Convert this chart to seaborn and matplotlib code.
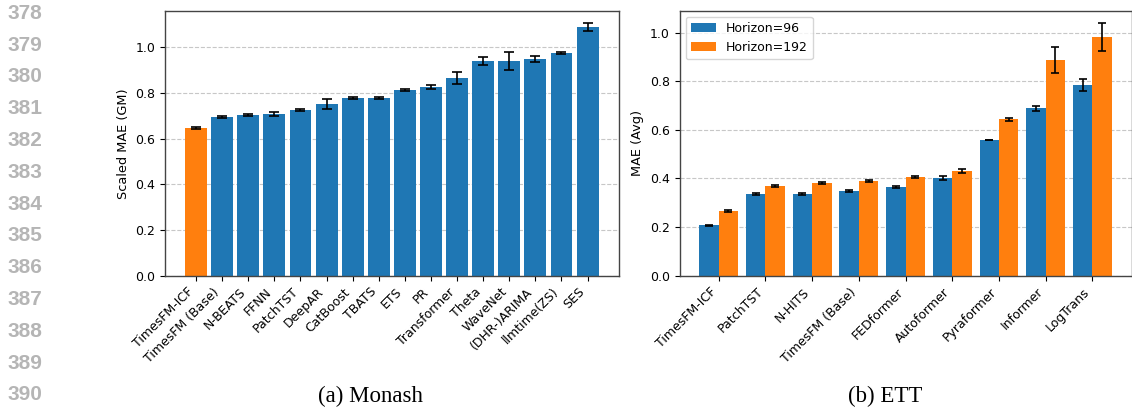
import matplotlib
matplotlib.use("Agg")
import matplotlib.pyplot as plt
import numpy as np
import pandas as pd
import seaborn as sns

# ---- data -----------------------------------------------------------------
monash_models = ["TimesFM-ICF", "TimesFM (Base)", "N-BEATS", "FFNN", "PatchTST",
                 "DeepAR", "CatBoost", "TBATS", "ETS", "PR", "Transformer",
                 "Theta", "WaveNet", "(DHR-)ARIMA", "llmtime(ZS)", "SES"]
monash_mae = [0.646, 0.694, 0.703, 0.707, 0.725, 0.751, 0.777, 0.777,
              0.812, 0.825, 0.864, 0.939, 0.939, 0.948, 0.974, 1.087]
monash_err = [0.003, 0.006, 0.003, 0.009, 0.004, 0.021, 0.005, 0.004,
              0.006, 0.010, 0.027, 0.017, 0.041, 0.013, 0.006, 0.017]

ett_models = ["TimesFM-ICF", "PatchTST", "N-HITS", "TimesFM (Base)", "FEDformer",
              "Autoformer", "Pyraformer", "Informer", "LogTrans"]
horizons = ["Horizon=96", "Horizon=192"]
ett_mae_96 = [0.207, 0.336, 0.336, 0.348, 0.365, 0.400, 0.558, 0.689, 0.784]
ett_err_96 = [0.002, 0.004, 0.003, 0.003, 0.003, 0.008, 0.001, 0.010, 0.023]
ett_mae_192 = [0.266, 0.369, 0.381, 0.388, 0.406, 0.430, 0.644, 0.887, 0.981]
ett_err_192 = [0.006, 0.005, 0.003, 0.004, 0.003, 0.007, 0.006, 0.053, 0.057]

line_numbers = list(range(378, 391))
captions = ["(a) Monash", "(b) ETT"]

BLUE = "#1f77b4"
ORANGE = "#ff7f0e"

plt.rcParams["font.family"] = ["DejaVu Sans"]
plt.rcParams["font.size"] = 9

fig = plt.figure(figsize=(11.32, 4.08), dpi=100)
ax1 = fig.add_axes([0.1458, 0.3243, 0.4007, 0.6495])
ax2 = fig.add_axes([0.6003, 0.3243, 0.3993, 0.6495])


def style_axis(ax):
    ax.yaxis.grid(True, linestyle="--", color="#b0b0b0", alpha=0.7, linewidth=0.8)
    ax.set_axisbelow(True)
    for sp in ax.spines.values():
        sp.set_color("#444444")
        sp.set_linewidth(1.0)
    for lab in ax.get_xticklabels():
        lab.set_rotation(45)
        lab.set_ha("right")
    ax.set_xlabel("")


# ---- Monash panel ---------------------------------------------------------
df_monash = pd.DataFrame({"model": monash_models, "mae": monash_mae})
pal = {m: (ORANGE if i == 0 else BLUE) for i, m in enumerate(monash_models)}
sns.barplot(data=df_monash, x="model", y="mae", hue="model", palette=pal,
            legend=False, saturation=1, width=0.84, linewidth=0, ax=ax1)
centers = [c.patches[0].get_x() + c.patches[0].get_width() / 2
           for c in list(ax1.containers)]
ax1.errorbar(centers, monash_mae, yerr=monash_err, fmt="none", ecolor="black",
             elinewidth=1.2, capsize=3.8, capthick=1.2)
ax1.set_xlim(-1.19, 16.19)
ax1.autoscale(axis="y")
ax1.set_ylabel("Scaled MAE (GM)", fontsize=9.3)
style_axis(ax1)

# ---- ETT panel ------------------------------------------------------------
df_ett = pd.DataFrame({
    "model": ett_models * 2,
    "horizon": [horizons[0]] * len(ett_models) + [horizons[1]] * len(ett_models),
    "mae": ett_mae_96 + ett_mae_192,
})
sns.barplot(data=df_ett, x="model", y="mae", hue="horizon", hue_order=horizons,
            palette=[BLUE, ORANGE], saturation=1, width=0.83, linewidth=0, ax=ax2)
handles, labels = ax2.get_legend_handles_labels()
ax2.legend(handles, labels, loc="upper left", title=None)
bar_groups = list(ax2.containers)
for cont, vals, errs in zip(bar_groups, [ett_mae_96, ett_mae_192],
                            [ett_err_96, ett_err_192]):
    xs = [p.get_x() + p.get_width() / 2 for p in cont.patches]
    ax2.errorbar(xs, vals, yerr=errs, fmt="none", ecolor="black",
                 elinewidth=1.2, capsize=3.2, capthick=1.2)
ax2.set_xlim(-0.84, 8.84)
ax2.autoscale(axis="y")
ax2.set_ylabel("MAE (Avg)", fontsize=9.3)
style_axis(ax2)

# ---- page furniture: line numbers and sub-captions ------------------------
for i, n in enumerate(line_numbers):
    fig.text(7 / 1132, 1 - (13.3 + 31.8 * i) / 408, str(n), ha="left", va="center",
             fontsize=15, fontweight="bold", color="#b5b5b5",
             family="Liberation Sans")

fig.text(371 / 1132, 1 - 396.5 / 408, captions[0], ha="center", va="center",
         fontsize=16.5, family="Liberation Serif")
fig.text(885 / 1132, 1 - 396.5 / 408, captions[1], ha="center", va="center",
         fontsize=16.5, family="Liberation Serif")

fig.savefig("out.png", dpi=100)
